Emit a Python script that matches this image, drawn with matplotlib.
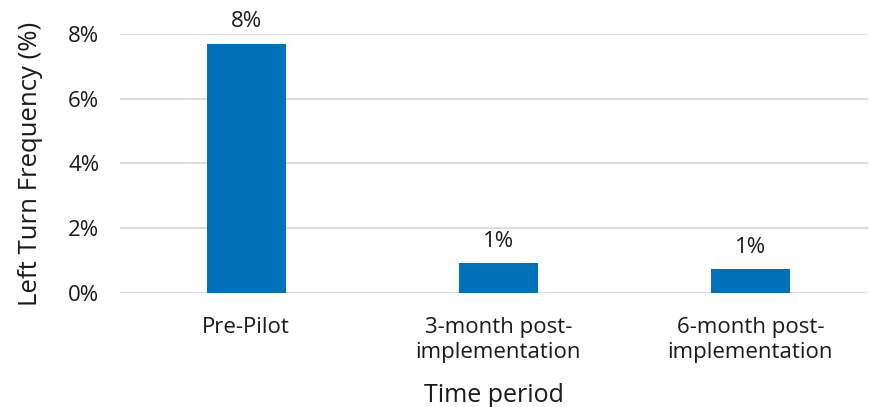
import matplotlib.pyplot as plt
from matplotlib.ticker import FuncFormatter

# datos
periodos = ["Pre-Pilot", "3-month post-\nimplementation", "6-month post-\nimplementation"]
frecuencia = [7.7, 0.93, 0.73]
ticks_y = [0, 2, 4, 6, 8]

plt.rcParams['font.family'] = ['Open Sans', 'DejaVu Sans']

fig = plt.figure(figsize=(8.7, 4.07), dpi=100)
ax = fig.add_axes([0.138, 0.280, 0.860, 0.637])

x = range(len(periodos))
barras = ax.bar(x, frecuencia, width=0.313, color="#0070B8", zorder=3)

for b, v in zip(barras, frecuencia):
    ax.annotate(f"{v:.0f}%", (b.get_x() + b.get_width() / 2, v),
                xytext=(0, 8), textcoords="offset points",
                ha="center", va="bottom", fontsize=16, color="#1a1a1a")

ax.set_xlim(-0.5, 2.468)
ax.set_ylim(0, 8)
ax.set_yticks(ticks_y)
ax.yaxis.set_major_formatter(FuncFormatter(lambda v, p: f"{v:.0f}%"))
ax.set_xticks(list(x))
ax.set_xticklabels(periodos, fontsize=16, color="#1a1a1a", linespacing=1.3)
ax.tick_params(axis="y", labelsize=16, labelcolor="#1a1a1a", length=0, pad=15)
ax.tick_params(axis="x", length=0, pad=17)

ax.grid(axis="y", color="#d9d9d9", linewidth=1.3, zorder=0)
for s in ax.spines.values():
    s.set_visible(False)

ax.set_ylabel("Left Turn Frequency (%)", fontsize=18.5, color="#1a1a1a", labelpad=18)
ax.set_xlabel("Time period", fontsize=18, color="#1a1a1a", labelpad=14)

plt.savefig("out.png", dpi=100)
